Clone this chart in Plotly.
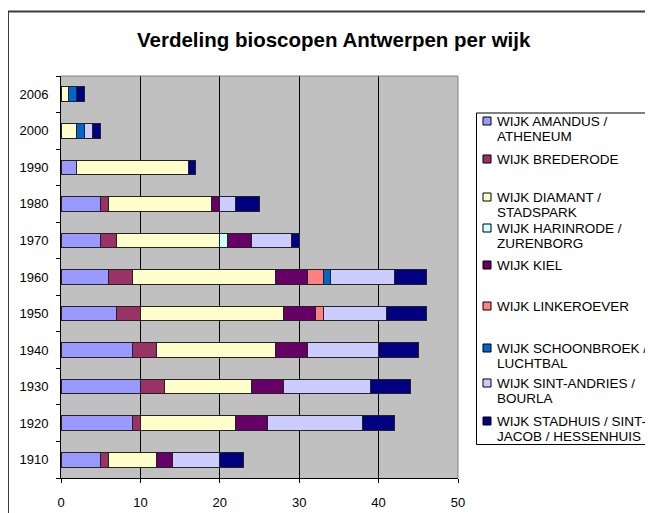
import plotly.graph_objects as go

years = ['1910', '1920', '1930', '1940', '1950', '1960', '1970', '1980', '1990', '2000', '2006']

series_names = [
    'WIJK AMANDUS / ATHENEUM',
    'WIJK BREDERODE',
    'WIJK DIAMANT / STADSPARK',
    'WIJK HARINRODE / ZURENBORG',
    'WIJK KIEL',
    'WIJK LINKEROEVER',
    'WIJK SCHOONBROEK / LUCHTBAL',
    'WIJK SINT-ANDRIES / BOURLA',
    'WIJK STADHUIS / SINT-JACOB / HESSENHUIS',
]
legend_lines = [
    ['WIJK AMANDUS /', 'ATHENEUM'],
    ['WIJK BREDERODE'],
    ['WIJK DIAMANT /', 'STADSPARK'],
    ['WIJK HARINRODE /', 'ZURENBORG'],
    ['WIJK KIEL'],
    ['WIJK LINKEROEVER'],
    ['WIJK SCHOONBROEK /', 'LUCHTBAL'],
    ['WIJK SINT-ANDRIES /', 'BOURLA'],
    ['WIJK STADHUIS / SINT-', 'JACOB / HESSENHUIS'],
]

amandus     = [5, 9, 10, 9, 7, 6, 5, 5, 2, 0, 0]
brederode   = [1, 1, 3, 3, 3, 3, 2, 1, 0, 0, 0]
diamant     = [6, 12, 11, 15, 18, 18, 13, 13, 14, 2, 1]
harinrode   = [0, 0, 0, 0, 0, 0, 1, 0, 0, 0, 0]
kiel        = [2, 4, 4, 4, 4, 4, 3, 1, 0, 0, 0]
linkeroever = [0, 0, 0, 0, 1, 2, 0, 0, 0, 0, 0]
schoonbroek = [0, 0, 0, 0, 0, 1, 0, 0, 0, 1, 1]
sintandries = [6, 12, 11, 9, 8, 8, 5, 2, 0, 1, 0]
stadhuis    = [3, 4, 5, 5, 5, 4, 1, 3, 1, 1, 1]

all_values = [amandus, brederode, diamant, harinrode, kiel, linkeroever,
              schoonbroek, sintandries, stadhuis]
colors = ['#9999FF', '#993366', '#FFFFCC', '#CCFFFF', '#660066',
          '#FF8080', '#0066CC', '#CCCCFF', '#000080']

x_ticks = [0, 10, 20, 30, 40, 50]
title_text = 'Verdeling bioscopen Antwerpen per wijk'

FONT = 'Liberation Sans, Arial, sans-serif'
OFF = 8  # page body margin
W, H = 653 - OFF, 513 - OFF
L, R, T, B = 61 - OFF, 195, 76 - OFF, 35
PW, PH = W - L - R, H - T - B


def px(x):
    # x given in window pixels
    return (x - OFF - L) / PW


def py(y):
    # y given in window pixels
    return (H - B - (y - OFF)) / PH


fig = go.Figure()
for name, vals, col in zip(series_names, all_values, colors):
    fig.add_trace(go.Bar(
        y=years, x=[v if v else None for v in vals], name=name,
        orientation='h', marker=dict(color=col, line=dict(color='#222222', width=1)),
        showlegend=False,
    ))

shapes = []
annotations = []

# outer chart frame
shapes.append(dict(type='rect', xref='paper', yref='paper',
                   x0=px(8), x1=px(720), y0=py(11.5), y1=py(580),
                   line=dict(color='#3a3a3a', width=2), fillcolor='rgba(0,0,0,0)', layer='above'))
# plot area top/right border
shapes.append(dict(type='line', xref='paper', yref='paper', x0=0, x1=1, y0=1, y1=1,
                   line=dict(color='#808080', width=1), layer='above'))
shapes.append(dict(type='line', xref='paper', yref='paper', x0=1, x1=1, y0=0, y1=1,
                   line=dict(color='#808080', width=1), layer='above'))

# legend box
shapes.append(dict(type='rect', xref='paper', yref='paper',
                   x0=px(476.5), x1=px(720), y0=py(113), y1=py(444.5),
                   line=dict(color='#000000', width=1), fillcolor='white', layer='above'))
first_line_y = [121, 159, 197, 228, 265, 306, 348, 383, 421]
for lines, col, yc in zip(legend_lines, colors, first_line_y):
    shapes.append(dict(type='rect', xref='paper', yref='paper',
                       x0=px(483), x1=px(491), y0=py(yc - 4), y1=py(yc + 4),
                       line=dict(color='#000000', width=1), fillcolor=col, layer='above'))
    for k, line in enumerate(lines):
        annotations.append(dict(text=line, xref='paper', yref='paper',
                                x=px(495), y=py(yc + k * 15.5), xanchor='left', yanchor='middle',
                                showarrow=False, font=dict(family=FONT, size=13.5, color='black')))

annotations.append(dict(text='<b>' + title_text + '</b>', xref='paper', yref='paper',
                        x=px(334), y=py(40), xanchor='center', yanchor='middle',
                        showarrow=False, font=dict(family=FONT, size=20.5, color='black')))

fig.update_layout(
    width=W, height=H,
    margin=dict(l=L, r=R, t=T, b=B, pad=0, autoexpand=False),
    paper_bgcolor='white', plot_bgcolor='#C0C0C0',
    barmode='stack', bargap=0.6,
    font=dict(family=FONT, size=13, color='black'),
    shapes=shapes, annotations=annotations,
    xaxis=dict(range=[0, 50], tickvals=x_ticks, ticktext=[str(v) for v in x_ticks],
               showgrid=True, gridcolor='#000000', gridwidth=1,
               showline=True, linecolor='#000000', linewidth=1,
               ticks='outside', ticklen=4, tickcolor='#000000',
               ticklabelstandoff=8, automargin=False,
               zeroline=False, fixedrange=True),
    yaxis=dict(type='category', categoryorder='array', categoryarray=years,
               showgrid=False, showline=True, linecolor='#000000', linewidth=1,
               ticks='outside', ticklen=4, tickcolor='#000000', tickson='boundaries',
               ticklabelstandoff=9, automargin=False, fixedrange=True),
)

fig.write_html('out.html')
